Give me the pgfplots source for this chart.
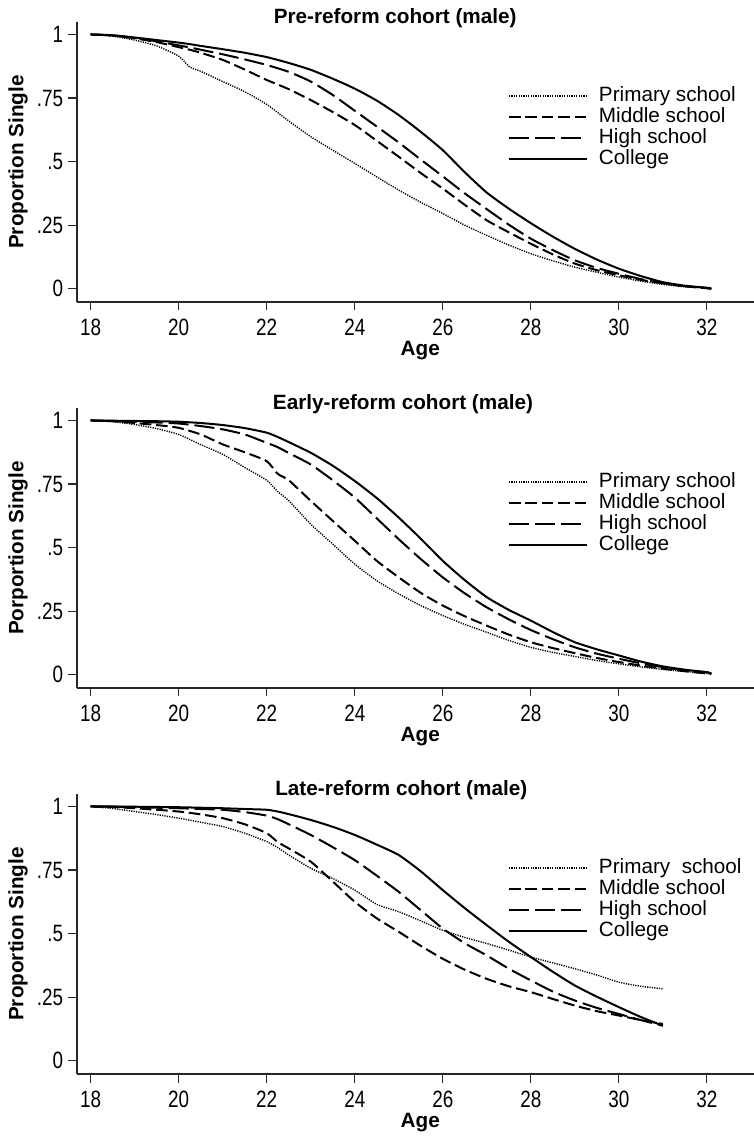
\documentclass[border=0pt]{standalone}
\usepackage{pgfplots}
\pgfplotsset{compat=1.18}
\usepackage{pgfplotstable}
\usepackage{fontspec}
\setmainfont{Liberation Sans}
\newfontfamily\narrowfont[FakeStretch=0.8]{Liberation Sans}
\newcommand\fs{\fontsize{10.35}{12.4}\selectfont}
\newcommand\tfs{\fontsize{11.8}{14}\selectfont}

\pgfplotstableread{
age  pri   mid   high  col
18   1     1     1     1
18.5 0.993 0.996 0.996 0.997
19   0.978 0.985 0.986 0.988
19.5 0.955 0.970 0.973 0.978
20   0.915 0.950 0.957 0.968
20.25 0.872 0.940 0.949 0.962
20.5 0.855 0.928 0.940 0.955
21   0.815 0.900 0.922 0.942
21.5 0.775 0.862 0.902 0.928
22   0.725 0.821 0.880 0.911
22.5 0.660 0.785 0.853 0.888
23   0.598 0.742 0.815 0.861
23.5 0.545 0.695 0.762 0.826
24   0.493 0.644 0.700 0.787
24.5 0.440 0.582 0.638 0.740
25   0.388 0.519 0.575 0.683
25.5 0.340 0.455 0.508 0.617
26   0.296 0.394 0.442 0.545
26.5 0.250 0.330 0.375 0.458
27   0.210 0.269 0.313 0.378
27.5 0.172 0.222 0.252 0.315
28   0.138 0.177 0.197 0.258
28.5 0.110 0.135 0.152 0.205
29   0.085 0.099 0.112 0.157
29.5 0.065 0.073 0.082 0.115
30   0.046 0.053 0.059 0.079
30.5 0.030 0.035 0.038 0.050
31   0.017 0.022 0.022 0.026
31.5 0.008 0.010 0.010 0.012
32   0.002 0.002 0.003 0.004
32.1 0     0     0     0
}\preT

\pgfplotstableread{
age  pri   mid   high  col
18   1     1     1     1
18.5 0.995 0.997 0.998 0.999
19   0.984 0.990 0.995 0.998
19.5 0.968 0.982 0.992 0.997
20   0.945 0.971 0.988 0.995
20.5 0.905 0.945 0.978 0.990
21   0.867 0.906 0.965 0.982
21.5 0.815 0.875 0.945 0.970
22   0.765 0.840 0.912 0.952
22.25 0.720 0.790 0.895 0.935
22.5 0.685 0.765 0.872 0.915
23   0.592 0.684 0.827 0.873
23.5 0.514 0.605 0.765 0.822
24   0.435 0.527 0.697 0.762
24.5 0.370 0.448 0.615 0.695
25   0.318 0.383 0.533 0.618
25.5 0.272 0.322 0.455 0.535
26   0.233 0.272 0.383 0.448
26.5 0.198 0.230 0.320 0.372
27   0.167 0.193 0.265 0.305
27.5 0.135 0.158 0.218 0.255
28   0.108 0.128 0.176 0.213
28.5 0.088 0.105 0.140 0.168
29   0.072 0.085 0.108 0.128
29.5 0.056 0.066 0.083 0.100
30   0.043 0.050 0.063 0.076
30.5 0.031 0.036 0.045 0.052
31   0.021 0.024 0.030 0.033
31.5 0.013 0.014 0.018 0.020
32   0.005 0.005 0.010 0.010
32.1 0.003 0.003 0.005 0.005
}\earlyT

\pgfplotstableread{
age  pri   mid   high  col
18   1     1     1     1
18.5 0.992 0.998 0.999 1
19   0.980 0.993 0.997 0.999
19.5 0.968 0.987 0.995 0.998
20   0.954 0.980 0.993 0.997
20.5 0.938 0.969 0.990 0.995
21   0.921 0.954 0.987 0.993
21.5 0.895 0.930 0.978 0.990
22   0.862 0.895 0.964 0.987
22.25 0.838 0.860 0.950 0.980
22.5 0.809 0.835 0.930 0.970
23   0.757 0.783 0.888 0.947
23.5 0.717 0.705 0.840 0.920
24   0.671 0.625 0.789 0.888
24.5 0.615 0.560 0.728 0.850
25   0.586 0.507 0.664 0.809
25.5 0.550 0.452 0.592 0.745
26   0.513 0.401 0.520 0.671
26.5 0.485 0.358 0.462 0.600
27   0.461 0.322 0.414 0.533
27.5 0.435 0.293 0.362 0.468
28   0.408 0.270 0.316 0.408
28.5 0.385 0.243 0.272 0.350
29   0.362 0.217 0.237 0.296
29.5 0.337 0.195 0.208 0.252
30   0.309 0.178 0.184 0.211
30.5 0.293 0.160 0.160 0.172
31   0.283 0.145 0.138 0.138
}\lateT

\pgfplotsset{
  panel/.style={
    scale only axis, width=338.5pt, height=140pt,
    xmin=17.69, xmax=33.07, ymin=-0.052, ymax=1.049,
    axis x line*=bottom, axis y line*=left,
    axis line style={-, line width=0.6pt, draw=black!85},
    xtick={18,20,22,24,26,28,30,32},
    xticklabels={18,20,22,24,26,28,30,32},
    ytick={0,0.25,0.5,0.75,1}, yticklabels={0,.25,.5,.75,1},
    tick align=outside, major tick length=4.25pt,
    tick style={line width=0.6pt, draw=black!85},
    tick label style={font=\narrowfont\tfs},
    xticklabel style={yshift=-0.6pt},
    yticklabel style={xshift=0.8pt},
    xlabel={Age},
    xlabel style={font=\bfseries\fs, at={(axis description cs:0.507,0)}, anchor=base, yshift=-27pt},
    ylabel style={font=\bfseries\fs, at={(axis description cs:-0.0870,0.5)}, anchor=center},
    every axis title shift=0pt,
    title style={font=\bfseries\fs, anchor=base, yshift=-0.7pt},
    legend style={draw=none, fill=none, at={(axis description cs:0.6366,1)}, anchor=north west,
      yshift=-32.1pt, inner sep=0pt, outer sep=0pt, row sep=0.8pt, column sep=5.5pt, font=\fs,
      nodes={inner sep=0pt, text height=0.75em, text depth=0.22em}},
    legend cell align=left,
    legend image code/.code={\draw[##1] (0pt,0pt) -- (39pt,0pt);},
  },
  pri/.style={black, line width=0.7pt, dash pattern=on 0.6pt off 0.6pt, smooth, tension=0.35},
  mid/.style={black, line width=1pt, dash pattern=on 5.8pt off 2.4pt, smooth, tension=0.35},
  hig/.style={black, line width=1pt, dash pattern=on 10pt off 3pt, smooth, tension=0.35},
  col/.style={black, line width=1pt, smooth, tension=0.35},
}

\begin{document}
\begin{tikzpicture}
\useasboundingbox (0,0) rectangle (377pt,568.5pt);

\begin{axis}[panel, at={(38.5pt,417.5pt)}, anchor=south west,
  title={Pre-reform cohort (male)}, title style={at={(axis description cs:0.470,1)}},
  ylabel={Proportion Single}]
\addplot[pri] table[x=age,y=pri] {\preT};
\addplot[mid] table[x=age,y=mid] {\preT};
\addplot[hig] table[x=age,y=high] {\preT};
\addplot[col] table[x=age,y=col] {\preT};
\legend{Primary school, Middle school, High school, College}
\end{axis}

\begin{axis}[panel, at={(38.5pt,224.5pt)}, anchor=south west,
  title={Early-reform cohort (male)}, title style={at={(axis description cs:0.4815,1)}},
  ylabel={Porportion Single}]
\addplot[pri] table[x=age,y=pri] {\earlyT};
\addplot[mid] table[x=age,y=mid] {\earlyT};
\addplot[hig] table[x=age,y=high] {\earlyT};
\addplot[col] table[x=age,y=col] {\earlyT};
\legend{Primary school, Middle school, High school, College}
\end{axis}

\begin{axis}[panel, at={(38.5pt,31.5pt)}, anchor=south west,
  title={Late-reform cohort (male)}, title style={at={(axis description cs:0.479,1)}},
  ylabel={Proportion Single}]
\addplot[pri] table[x=age,y=pri] {\lateT};
\addplot[mid] table[x=age,y=mid] {\lateT};
\addplot[hig] table[x=age,y=high] {\lateT};
\addplot[col] table[x=age,y=col] {\lateT};
\legend{Primary\ \ school, Middle school, High school, College}
\end{axis}
\end{tikzpicture}
\end{document}
